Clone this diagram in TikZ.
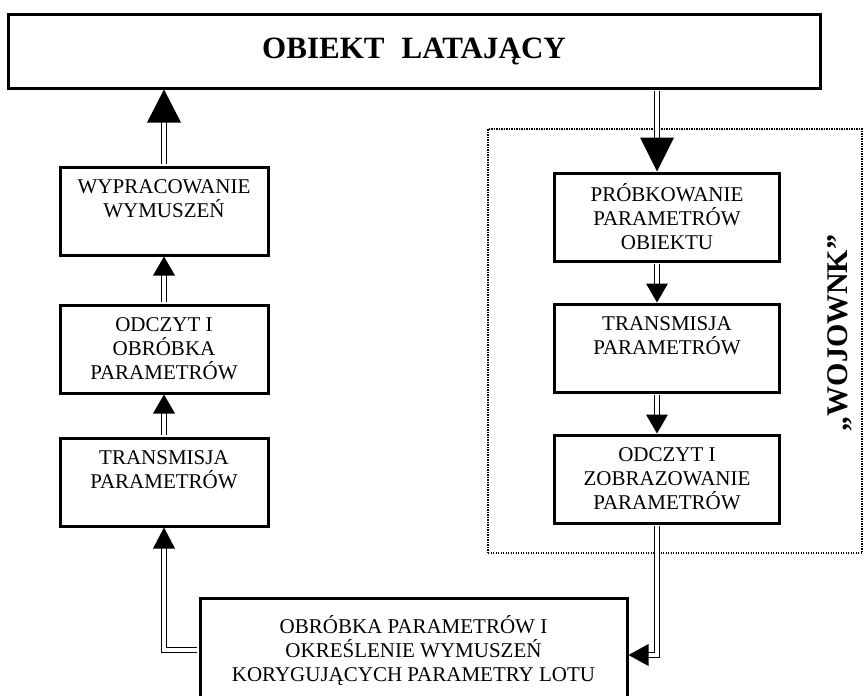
\documentclass[tikz,border=0pt]{standalone}
\usepackage{fontspec}
\setmainfont{Liberation Serif}
\usetikzlibrary{calc}
\begin{document}
\begin{tikzpicture}[x=1pt,y=-1pt,
  box/.style={draw, line width=3pt, minimum width=208pt, minimum height=88pt,
    align=center, font=\fontsize{21}{24}\selectfont, inner sep=0pt},
  rbox/.style={box, minimum width=225pt},
  dbl/.style={draw, line width=1.3pt, double=white, double distance=3.4pt},
  frame/.style={draw, line width=1.4pt, dash pattern=on 1.2pt off 1.3pt}
]
\useasboundingbox (0,0) rectangle (865,696);
\clip (0,0) rectangle (865,696);

% dotted group frame
\node[frame, minimum width=374pt, minimum height=424pt, inner sep=0pt] (grp) at (675,341) {};

% boxes
\node[draw, line width=3pt, minimum width=812pt, minimum height=74pt, inner sep=0pt,
  font=\fontsize{31}{36}\selectfont\bfseries] (top) at (414,51) {OBIEKT\hspace{0.55em}LATAJĄCY};

\node[box] (L1) at (164,211) {WYPRACOWANIE\\WYMUSZEŃ\\\mbox{}};
\node[box] (L2) at (164,349) {ODCZYT I\\OBRÓBKA\\PARAMETRÓW};
\node[box] (L3) at (164,482) {TRANSMISJA\\PARAMETRÓW\\\mbox{}};

\node[rbox] (R1) at (667,217) {PRÓBKOWANIE\\PARAMETRÓW\\OBIEKTU};
\node[rbox] (R2) at (667,348) {TRANSMISJA\\PARAMETRÓW\\\mbox{}};
\node[rbox] (R3) at (667,479) {ODCZYT I\\ZOBRAZOWANIE\\PARAMETRÓW};

\node[draw, line width=3pt, minimum width=427pt, minimum height=104pt, anchor=north,
  align=center, font=\fontsize{21}{24}\selectfont, inner sep=0pt] (bot) at (413.5,597)
  {OBRÓBKA PARAMETRÓW I\\OKREŚLENIE WYMUSZEŃ\\KORYGUJĄCYCH PARAMETRY LOTU};

\node[rotate=90, font=\fontsize{30}{36}\selectfont\bfseries] (woj) at (840,333) {„WOJOWNK”};

% left column connectors (upwards)
\coordinate (a1) at (L1.north |- top.south);
\draw[dbl, shorten <=1.5pt] (L1.north) -- ($(a1)+(0,31)$);
\fill (a1) -- ++(-17,33) -- ++(34,0) -- cycle;

\draw[dbl, shorten <=1.5pt] (L2.north) -- ($(L1.south)+(0,17)$);
\fill (L1.south) -- ++(-11,19) -- ++(22,0) -- cycle;

\draw[dbl, shorten <=1.5pt] (L3.north) -- ($(L2.south)+(0,17)$);
\fill (L2.south) -- ++(-11,19) -- ++(22,0) -- cycle;

\path (bot.north west) ++(0,53) coordinate (bw);
\draw[dbl, shorten <=1.5pt] (bw) -| ($(L3.south)+(0,19)$);
\fill (L3.south) -- ++(-11,21) -- ++(22,0) -- cycle;

% right column connectors (downwards)
\coordinate (r1) at ($(R1.north)+(-10,0)$);
\coordinate (rt) at (r1 |- top.south);
\draw[dbl, shorten <=1.5pt] (rt) -- ($(r1)+(0,-31)$);
\fill (r1) -- ++(-17,-34) -- ++(34,0) -- cycle;

\coordinate (r2) at ($(R2.north)+(-10,0)$);
\draw[dbl, shorten <=1.5pt] ($(R1.south)+(-10,0)$) -- ($(r2)+(0,-17)$);
\fill (r2) -- ++(-11,-19) -- ++(22,0) -- cycle;

\coordinate (r3) at ($(R3.north)+(-10,0)$);
\draw[dbl, shorten <=1.5pt] ($(R2.south)+(-10,0)$) -- ($(r3)+(0,-17)$);
\fill (r3) -- ++(-11,-19) -- ++(22,0) -- cycle;

\path (bot.north east) ++(0,58) coordinate (be);
\draw[dbl, shorten <=1.5pt] ($(R3.south)+(-10,0)$) |- ($(be)+(18,0)$);
\fill (be) -- ++(20,-11) -- ++(0,22) -- cycle;
\end{tikzpicture}
\end{document}
